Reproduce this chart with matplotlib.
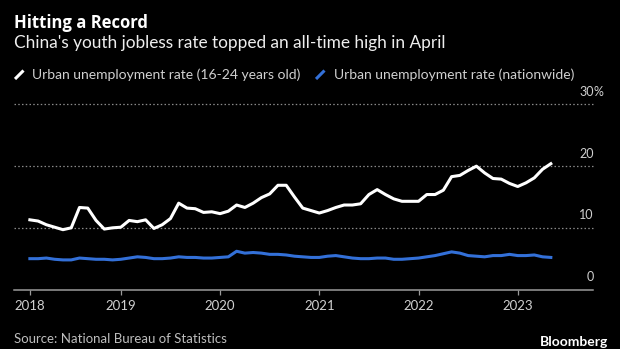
# 중국 청년 실업률 차트 (Bloomberg 스타일)
import matplotlib
matplotlib.use('Agg')
import matplotlib.pyplot as plt
from matplotlib.lines import Line2D
from matplotlib.transforms import offset_copy

plt.rcParams['font.family'] = ['Lato', 'DejaVu Sans']

# 데이터 (2018년 1월 ~ 2023년 4월, 월별)
youth_rate = [11.3, 11.1, 10.5, 10.1, 9.7, 10.0, 13.3, 13.2, 11.2, 9.8, 10.0, 10.1,
              11.2, 11.0, 11.3, 9.9, 10.5, 11.5, 14.0, 13.2, 13.1, 12.5, 12.6, 12.3,
              12.7, 13.7, 13.3, 14.0, 14.9, 15.5, 16.9, 16.9, 15.0, 13.2, 12.8, 12.4,
              12.8, 13.3, 13.7, 13.7, 13.9, 15.4, 16.2, 15.4, 14.7, 14.3, 14.3, 14.3,
              15.4, 15.4, 16.1, 18.3, 18.5, 19.3, 20.0, 18.9, 18.0, 17.9, 17.2, 16.7,
              17.3, 18.1, 19.5, 20.4]
national_rate = [5.0, 5.0, 5.1, 4.9, 4.8, 4.8, 5.1, 5.0, 4.9, 4.9, 4.8, 4.9,
                 5.1, 5.3, 5.2, 5.0, 5.0, 5.1, 5.3, 5.2, 5.2, 5.1, 5.1, 5.2,
                 5.3, 6.2, 5.9, 6.0, 5.9, 5.7, 5.7, 5.6, 5.4, 5.3, 5.2, 5.2,
                 5.4, 5.5, 5.3, 5.1, 5.0, 5.0, 5.1, 5.1, 4.9, 4.9, 5.0, 5.1,
                 5.3, 5.5, 5.8, 6.1, 5.9, 5.5, 5.4, 5.3, 5.5, 5.5, 5.7, 5.5,
                 5.5, 5.6, 5.3, 5.2]
year_labels = ['2018', '2019', '2020', '2021', '2022', '2023']
y_ticks = [0, 10, 20, 30]

W, H = 620, 349
BG = '#000000'
WHITE = '#ffffff'
BLUE = '#3370d8'
GRID = '#8a8a8a'
TEXT = '#d0d0d0'


def fx(px):
    return px / W


def fy(py):
    return 1 - py / H


fig = plt.figure(figsize=(W / 100, H / 100), dpi=100, facecolor=BG)
ax = fig.add_axes([fx(13.5), fy(289.5), fx(593 - 13.5), (289.5 - 104.5) / H])
ax.set_facecolor(BG)

# 월말 기준 위치 (2018-01-01 = 0)
months = [i + 1 for i in range(len(youth_rate))]
ax.plot(months, national_rate, color=BLUE, lw=2.2, solid_joinstyle='round', zorder=3)
ax.plot(months, youth_rate, color=WHITE, lw=2.2, solid_joinstyle='round', zorder=4)

ax.set_xlim(-0.98, 69.1)
ax.set_ylim(0, 30)

# 격자선
for v in y_ticks[1:]:
    ax.axhline(v, color=GRID, lw=0.9, linestyle=(0, (1.2, 1.8)), zorder=1, clip_on=False)

for side in ['top', 'right', 'left']:
    ax.spines[side].set_visible(False)
ax.spines['bottom'].set_color('#9a9a9a')
ax.spines['bottom'].set_linewidth(1.1)

tick_pos = [1] + [12 * k for k in range(1, len(year_labels))]
ax.set_xticks(tick_pos)
ax.set_xticklabels(year_labels)
ax.tick_params(axis='x', direction='out', length=3.6, width=0.9, color='#9a9a9a',
               labelcolor=TEXT, labelsize=9.5, pad=3.6)
ax.set_yticks([])

# y축 라벨 (격자선 위쪽)
ytrans = offset_copy(ax.get_yaxis_transform(), fig=fig, x=0, y=8.5, units='dots')
for v in y_ticks:
    ax.text(1.0015, v, str(v), transform=ytrans, ha='right', va='baseline',
            color=TEXT, fontsize=9, clip_on=False)
ax.text(1.0015, y_ticks[-1], '%', transform=ytrans, ha='left', va='baseline',
        color=TEXT, fontsize=9, clip_on=False)

# 제목/부제목
fig.text(fx(13.5), fy(27.7), 'Hitting a Record', color=WHITE, fontsize=12,
         fontweight='bold', family=['Open Sans', 'DejaVu Sans'], va='baseline', ha='left')
fig.text(fx(13.5), fy(48.3), "China's youth jobless rate topped an all-time high in April",
         color='#eeeeee', fontsize=12.4, va='baseline', ha='left')

# 범례
legend_items = [(15, WHITE, 'Urban unemployment rate (16-24 years old)', 32.4),
                (316, BLUE, 'Urban unemployment rate (nationwide)', 333.5)]
for x0, col, label, tx in legend_items:
    fig.add_artist(Line2D([fx(x0), fx(x0 + 8.5)], [fy(79), fy(70.5)], color=col,
                          lw=2.2, solid_capstyle='butt', transform=fig.transFigure))
    fig.text(fx(tx), fy(79.3), label, color=TEXT, fontsize=10, va='baseline', ha='left')

# 출처
fig.text(fx(14), fy(343.3), 'Source: National Bureau of Statistics', color='#bdbdbd',
         fontsize=9.5, va='baseline', ha='left')
fig.text(fx(608.3), fy(345.5), 'Bloomberg', color=WHITE, fontsize=10,
         fontweight='bold', va='baseline', ha='right')

fig.savefig('out.png', dpi=100, facecolor=BG)
